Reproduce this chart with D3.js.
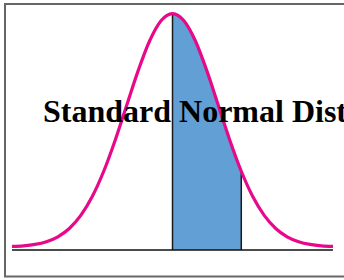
<!DOCTYPE html>
<html>
<head>
<meta charset="utf-8">
<script src="https://cdn.jsdelivr.net/npm/d3@7"></script>
<style>
	html, body { margin: 0; padding: 0; background: #fff; }
	svg { display: block; }
</style>
</head>
<body>
<div id="chart"></div>
<script>
// standard normal density, table values
let zValues = [-3.5, -3.25, -3, -2.75, -2.5, -2.25, -2, -1.75, -1.5, -1.25, -1, -0.75, -0.5, -0.25,
	0, 0.25, 0.5, 0.75, 1, 1.25, 1.5, 1.75, 2, 2.25, 2.5, 2.75, 3, 3.25, 3.5];
let densities = [0.0009, 0.0020, 0.0044, 0.0091, 0.0175, 0.0317, 0.0540, 0.0863, 0.1295, 0.1826, 0.2420, 0.3011, 0.3521, 0.3867,
	0.3989, 0.3867, 0.3521, 0.3011, 0.2420, 0.1826, 0.1295, 0.0863, 0.0540, 0.0317, 0.0175, 0.0091, 0.0044, 0.0020, 0.0009];
let shadeFrom = 0;
let shadeTo = 1.5;
let title = "Standard Normal Distribution";

let W = 344, H = 280;
let data = zValues.map(function (z, i) { return { z: z, p: densities[i] }; });

let svg = d3.select("#chart").append("svg")
	.attr("width", W)
	.attr("height", H);

// frame (right edge falls outside the picture)
svg.append("rect")
	.attr("x", 5).attr("y", 4)
	.attr("width", 360).attr("height", 272.5)
	.attr("fill", "none")
	.attr("stroke", "#666")
	.attr("stroke-width", 2);

let x = d3.scaleLinear().domain([-3.5, 3.5]).range([12, 333]);
let y = d3.scaleLinear().domain([0, 0.4]).range([247, 13]);
let axisY = y(0) + 3;

let shaded = data.filter(function (d) { return d.z >= shadeFrom && d.z <= shadeTo; });

let area = d3.area()
	.x(function (d) { return x(d.z); })
	.y0(axisY)
	.y1(function (d) { return y(d.p); })
	.curve(d3.curveMonotoneX);

svg.append("path")
	.datum(shaded)
	.attr("d", area)
	.attr("fill", "#629fd4");

// edges of the shaded region
svg.selectAll(".edge")
	.data([shaded[0], shaded[shaded.length - 1]])
	.enter().append("line")
	.attr("class", "edge")
	.attr("x1", function (d) { return x(d.z); })
	.attr("x2", function (d) { return x(d.z); })
	.attr("y1", axisY)
	.attr("y2", function (d) { return y(d.p); })
	.attr("stroke", "#1a1a1a")
	.attr("stroke-width", 1.5);

// axis line
svg.append("line")
	.attr("x1", x(-3.5)).attr("x2", x(3.5))
	.attr("y1", axisY).attr("y2", axisY)
	.attr("stroke", "#111")
	.attr("stroke-width", 1.5);

let line = d3.line()
	.x(function (d) { return x(d.z); })
	.y(function (d) { return y(d.p); })
	.curve(d3.curveMonotoneX);

svg.append("path")
	.datum(data)
	.attr("d", line)
	.attr("fill", "none")
	.attr("stroke", "#e8088a")
	.attr("stroke-width", 3.2);

// title runs past the right edge, as in the original
svg.append("text")
	.attr("x", 43)
	.attr("y", 122)
	.attr("font-family", "'Liberation Serif', 'Times New Roman', serif")
	.attr("font-weight", "bold")
	.attr("font-size", 32)
	.attr("fill", "#000")
	.text(title);
</script>
</body>
</html>
